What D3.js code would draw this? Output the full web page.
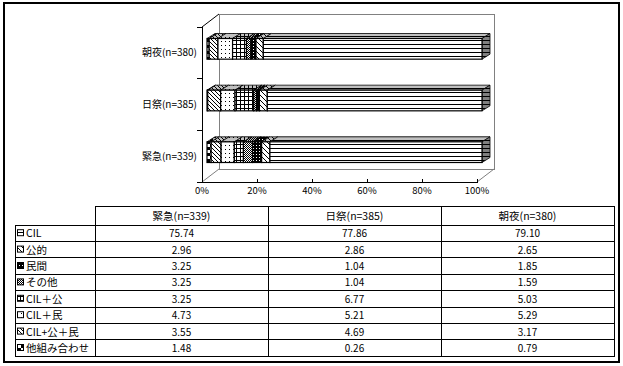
<!DOCTYPE html>
<html><head><meta charset="utf-8">
<script src="https://cdn.jsdelivr.net/npm/d3@7"></script>
<style>
body{margin:0;background:#fff}
svg{display:block}
text{font-family:"Noto Sans CJK JP","Noto Sans",sans-serif;fill:#000}
</style>
</head><body>
<svg id="c" width="623" height="366"></svg>
<script>
// ---- data ----
const categories = ["緊急(n=339)", "日祭(n=385)", "朝夜(n=380)"];
const seriesNames = ["CIL", "公的", "民間", "その他", "CIL＋公", "CIL＋民", "CIL+公＋民", "他組み合わせ"];
const valEmergency = [75.74, 2.96, 3.25, 3.25, 3.25, 4.73, 3.55, 1.48];
const valHoliday   = [77.86, 2.86, 1.04, 1.04, 6.77, 5.21, 4.69, 0.26];
const valNight     = [79.10, 2.65, 1.85, 1.59, 5.03, 5.29, 3.17, 0.79];
const xTicks = [0, 20, 40, 60, 80, 100];
const xTickLabels = ["0%", "20%", "40%", "60%", "80%", "100%"];
const patternIds = ["pHL", "pDiag", "pDark", "pFine", "pGrid", "pDots", "pDiag2", "pCheck"];

const seriesValues = [valEmergency, valHoliday, valNight];
const rows = categories.map((c, i) => {
  const o = {cat: c};
  seriesNames.forEach((s, j) => o[s] = seriesValues[i][j]);
  return o;
});

const svg = d3.select("#c");
const defs = svg.append("defs");

function pat(id, w, h, bg, marks, color) {
  const p = defs.append("pattern").attr("id", id)
    .attr("patternUnits", "userSpaceOnUse").attr("width", w).attr("height", h);
  if (bg) p.append("rect").attr("width", w).attr("height", h).attr("fill", bg);
  marks.forEach(m => p.append("rect").attr("x", m[0]).attr("y", m[1])
    .attr("width", m[2]).attr("height", m[3]).attr("fill", color || "#000"));
}
function makePatterns(suffix, bg) {
  pat("pHL" + suffix, 4, 4, bg, [[0, 0, 4, 1]]);
  pat("pDiag" + suffix, 5, 5, bg, [[0,0,1,1],[1,1,1,1],[2,2,1,1],[3,3,1,1],[4,4,1,1]]);
  pat("pDark" + suffix, 3, 3, "#000", [[1, 1, 1, 1]], "#fff");
  pat("pFine" + suffix, 2, 2, bg, [[0, 0, 1, 1], [1, 1, 1, 1]]);
  pat("pGrid" + suffix, 4, 4, bg, [[0, 0, 4, 1], [0, 0, 1, 4]]);
  pat("pDots" + suffix, 4, 4, bg, [[1, 1, 1, 1]]);
  pat("pDiag2" + suffix, 4, 4, bg, [[0,0,1,1],[1,1,1,1],[2,2,1,1],[3,3,1,1]]);
  pat("pCheck" + suffix, 6, 6, bg, [[0, 0, 3, 3], [3, 3, 3, 3]]);
}
makePatterns("", "#fff");
makePatterns("T", "#c0c0c0");
pat("pSide", 4, 4, "#808080", [[0, 0, 4, 1]]);

// ---- outer frame ----
svg.append("rect").attr("x", 4).attr("y", 3).attr("width", 615).attr("height", 359)
  .attr("fill", "none").attr("stroke", "#000").attr("stroke-width", 2);

// ---- 3D plot geometry ----
const X0 = 202, X1 = 477, YT = 27, YB = 182;
const DX = 17, DY = -13;          // floor depth
const BFX = 5, BFY = -4;          // bar front plane offset
const BDX = 8, BDY = -5;          // bar depth

const x = d3.scaleLinear().domain([0, 100]).range([X0, X1]);
const y = d3.scaleBand().domain(categories.slice().reverse()).range([YT, YB])
  .paddingInner(0.6).paddingOuter(0.3);

const g = svg.append("g");
// back wall
g.append("rect").attr("x", X0 + DX).attr("y", YT + DY).attr("width", X1 - X0).attr("height", YB - YT)
  .attr("fill", "#fff").attr("stroke", "#808080").attr("stroke-width", 1).attr("shape-rendering", "crispEdges");
// floor diagonals
g.append("line").attr("x1", X0).attr("y1", YB).attr("x2", X0 + DX).attr("y2", YB + DY).attr("stroke", "#808080");
g.append("line").attr("x1", X1).attr("y1", YB).attr("x2", X1 + DX).attr("y2", YB + DY).attr("stroke", "#808080");
g.append("line").attr("x1", X0).attr("y1", YT).attr("x2", X0 + DX).attr("y2", YT + DY).attr("stroke", "#000");

// stacked bars (100%)
const stackKeys = seriesNames.slice().reverse();
const stack = d3.stack().keys(stackKeys).offset(d3.stackOffsetExpand);
const layers = stack(rows);
const pid = {};
seriesNames.forEach((s, i) => pid[s] = patternIds[i]);

const bars = g.append("g");
categories.forEach(cat => {
  const yy = y(cat) + BFY, h = y.bandwidth();
  const segs = layers.map(L => {
    const d = L.find(r => r.data.cat === cat);
    return {key: L.key, x0: x(d[0] * 100) + BFX, x1: x(d[1] * 100) + BFX};
  });
  segs.forEach(s => {
    const top = [[s.x0, yy], [s.x1, yy], [s.x1 + BDX, yy + BDY], [s.x0 + BDX, yy + BDY]];
    bars.append("path").attr("d", d3.line()(top) + "Z")
      .attr("fill", "url(#" + pid[s.key] + "T)").attr("stroke", "#000").attr("stroke-width", 0.8);
  });
  const last = segs[segs.length - 1];
  const side = [[last.x1, yy], [last.x1 + BDX, yy + BDY], [last.x1 + BDX, yy + BDY + h], [last.x1, yy + h]];
  bars.append("path").attr("d", d3.line()(side) + "Z")
    .attr("fill", "url(#pSide)").attr("stroke", "#000").attr("stroke-width", 0.8);
  segs.forEach(s => {
    bars.append("rect").attr("x", s.x0).attr("y", yy).attr("width", s.x1 - s.x0).attr("height", h)
      .attr("fill", "url(#" + pid[s.key] + ")").attr("stroke", "#000").attr("stroke-width", 1.2);
  });
});

// front axes
g.append("line").attr("x1", X0).attr("y1", YT).attr("x2", X0).attr("y2", YB)
  .attr("stroke", "#000").attr("shape-rendering", "crispEdges");
g.append("line").attr("x1", X0).attr("y1", YB).attr("x2", X1).attr("y2", YB)
  .attr("stroke", "#000").attr("shape-rendering", "crispEdges");
xTicks.forEach((t, i) => {
  g.append("line").attr("x1", x(t)).attr("x2", x(t)).attr("y1", YB - 3).attr("y2", YB + 1)
    .attr("stroke", "#000").attr("shape-rendering", "crispEdges");
  g.append("text").attr("x", x(t)).attr("y", YB + 12).attr("text-anchor", "middle")
    .attr("font-size", 9.5).text(xTickLabels[i]);
});
[0, 1, 2, 3].forEach(i => {
  const yy = YT + i * (YB - YT) / 3;
  g.append("line").attr("x1", X0 - 5).attr("x2", X0).attr("y1", yy).attr("y2", yy)
    .attr("stroke", "#000").attr("shape-rendering", "crispEdges");
});
categories.forEach(cat => {
  g.append("text").attr("x", X0 - 5).attr("y", y(cat) + y.bandwidth() / 2 + 3.5)
    .attr("text-anchor", "end").attr("font-size", 10).text(cat);
});

// ---- data table ----
const TL = 15, TC = 95, TR = 614, HT = 206, RT = 225, RH = 16.4;
const colW = (TR - TC) / categories.length;
const tg = svg.append("g").attr("shape-rendering", "crispEdges");
const RB = RT + RH * seriesNames.length;
tg.append("rect").attr("x", TC).attr("y", HT).attr("width", TR - TC).attr("height", RT - HT)
  .attr("fill", "none").attr("stroke", "#000");
tg.append("rect").attr("x", TL).attr("y", RT).attr("width", TR - TL).attr("height", RB - RT)
  .attr("fill", "none").attr("stroke", "#000");
categories.forEach((c, i) => {
  tg.append("line").attr("x1", TC + colW * i).attr("x2", TC + colW * i).attr("y1", HT).attr("y2", RB).attr("stroke", "#000");
  svg.append("text").attr("x", TC + colW * (i + 0.5)).attr("y", (HT + RT) / 2 + 4)
    .attr("text-anchor", "middle").attr("font-size", 10.5).text(c);
});
seriesNames.forEach((s, j) => {
  const ry = RT + RH * j;
  if (j > 0) tg.append("line").attr("x1", TL).attr("x2", TR).attr("y1", ry).attr("y2", ry).attr("stroke", "#000");
  svg.append("rect").attr("x", 17.5).attr("y", ry + RH / 2 - 3.5).attr("width", 6).attr("height", 6)
    .attr("fill", "url(#" + patternIds[j] + ")").attr("stroke", "#000").attr("stroke-width", 1);
  svg.append("text").attr("x", 26).attr("y", ry + RH / 2 + 4).attr("font-size", 10.5).text(s);
  categories.forEach((c, i) => {
    svg.append("text").attr("x", TC + colW * (i + 0.5)).attr("y", ry + RH / 2 + 4)
      .attr("text-anchor", "middle").attr("font-size", 10).text(seriesValues[i][j].toFixed(2));
  });
});
</script>
</body></html>
